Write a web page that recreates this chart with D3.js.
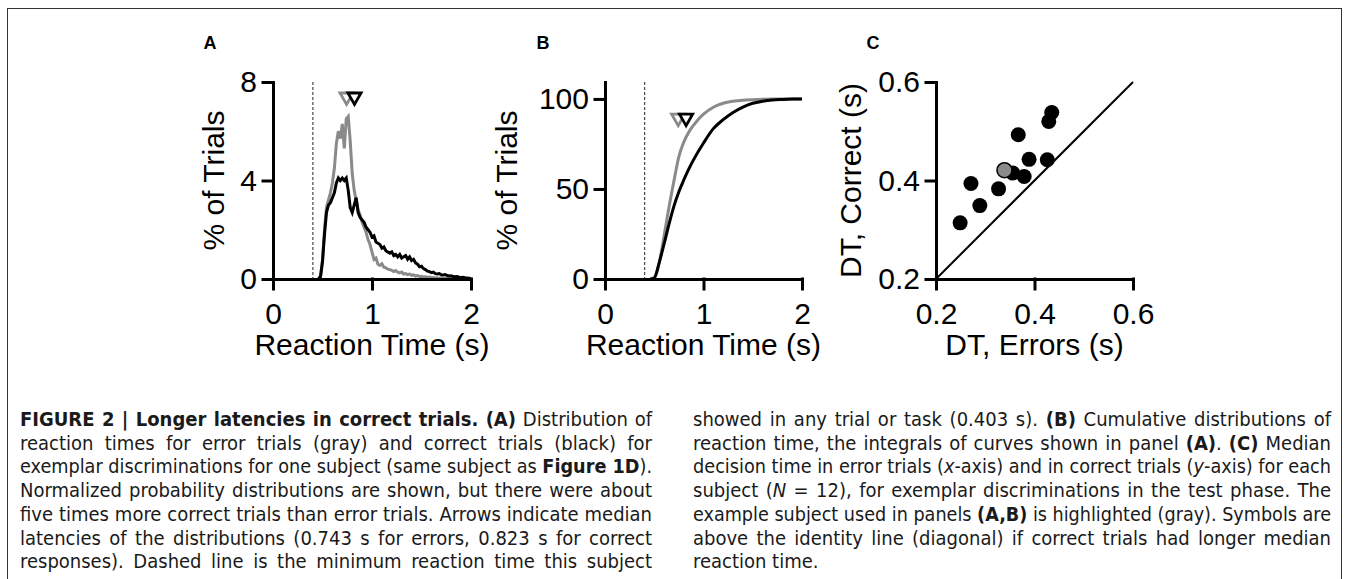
<!DOCTYPE html>
<html>
<head>
<meta charset="utf-8" />
<title>Figure 2: Longer latencies in correct trials</title>
<script src="https://cdnjs.cloudflare.com/ajax/libs/d3/7.8.5/d3.min.js"></script>
<style>
  body { margin: 0; background: #fff; }
  #fig { position: relative; width: 1349px; height: 579px; overflow: hidden; }
  #fig svg { position: absolute; left: 0; top: 0; }
  .axis path, .axis line { stroke: #000; stroke-width: 3px; stroke-linecap: square; }
  .axis text { font-family: "Liberation Sans", Arial, sans-serif; font-size: 30px; fill: #000; }
  .title { font-family: "Liberation Sans", Arial, sans-serif; font-size: 30px; fill: #000; }
  .plabel { font-family: "Liberation Sans", Arial, sans-serif; font-size: 18px; font-weight: bold; fill: #000; }
  .cap { position: absolute; font-family: "Liberation Sans Narrow", "DejaVu Sans Condensed", sans-serif;
         font-size: 20px; line-height: 23.7px; color: #1a1a1a; white-space: nowrap; }
</style>
</head>
<body>
<div id="fig"></div>
<script>
// reaction time histogram bins (s) and % of trials
var rtBins = [0.46, 0.48, 0.50, 0.52, 0.54, 0.56, 0.58, 0.60, 0.62, 0.64,
              0.66, 0.68, 0.70, 0.72, 0.74, 0.76, 0.78, 0.80, 0.82, 0.84,
              0.86, 0.88, 0.90, 0.92, 0.94, 0.96, 0.98, 1.00, 1.02, 1.04,
              1.06, 1.08, 1.10, 1.12, 1.14, 1.16, 1.18, 1.20, 1.22, 1.24,
              1.26, 1.28, 1.30, 1.32, 1.34, 1.36, 1.38, 1.40, 1.42, 1.44,
              1.46, 1.48, 1.50, 1.52, 1.54, 1.56, 1.58, 1.60, 1.62, 1.64,
              1.66, 1.68, 1.70, 1.72, 1.74, 1.76, 1.78, 1.80, 1.82, 1.84,
              1.86, 1.88, 1.90, 1.92, 1.94, 1.96, 1.98, 2.00];
var pctError = [0.00, 0.10, 0.80, 2.00, 2.90, 3.20, 3.50, 3.90, 4.50, 5.50,
                6.00, 5.70, 6.30, 5.30, 6.50, 6.60, 5.60, 4.30, 3.60, 3.20,
                2.80, 2.60, 2.30, 2.10, 1.90, 1.60, 1.40, 1.10, 0.80, 0.85,
                0.60, 0.55, 0.62, 0.48, 0.45, 0.40, 0.38, 0.35, 0.30, 0.34,
                0.28, 0.25, 0.28, 0.20, 0.22, 0.18, 0.20, 0.15, 0.17, 0.12,
                0.14, 0.10, 0.11, 0.08, 0.09, 0.07, 0.08, 0.05, 0.06, 0.04,
                0.05, 0.03, 0.04, 0.03, 0.02, 0.03, 0.02, 0.01, 0.02, 0.01,
                0.01, 0.00, 0.01, 0.00, 0.00, 0.00, 0.00, 0.00];
var pctCorrect = [0.00, 0.10, 0.70, 1.80, 2.70, 3.00, 3.10, 3.30, 3.50, 3.90,
                  4.10, 4.00, 4.10, 4.00, 4.10, 3.60, 2.90, 2.70, 3.00, 3.30,
                  2.70, 2.50, 2.40, 2.30, 2.10, 2.00, 1.90, 1.70, 1.75, 1.50,
                  1.45, 1.40, 1.25, 1.30, 1.15, 1.10, 1.05, 1.10, 0.95, 1.00,
                  0.90, 1.00, 0.85, 0.90, 0.95, 0.80, 0.90, 0.75, 0.80, 0.65,
                  0.60, 0.50, 0.52, 0.42, 0.38, 0.32, 0.30, 0.26, 0.28, 0.22,
                  0.20, 0.22, 0.17, 0.16, 0.18, 0.14, 0.12, 0.13, 0.10, 0.09,
                  0.10, 0.07, 0.06, 0.07, 0.05, 0.04, 0.03, 0.02];

// cumulative % of trials
var cdfTimes   = [0.46, 0.50, 0.55, 0.60, 0.65, 0.70, 0.75, 0.80, 0.85, 0.90, 1.00,
                  1.10, 1.20, 1.30, 1.40, 1.50, 1.60, 1.70, 1.80, 1.90, 2.00];
var cdfError   = [0, 0.8, 9, 24, 40, 54.5, 68, 76, 81.5, 85.5, 91.5,
                  95.4, 97.6, 98.7, 99.3, 99.6, 99.8, 99.9, 100, 100, 100];
var cdfCorrect = [0, 0.5, 9, 19.5, 30.5, 40.5, 48.5, 55, 61, 66.3, 75.5,
                  83.5, 88.5, 92.5, 95.5, 97.6, 98.7, 99.4, 99.7, 99.9, 100];

var medianError = 0.743, medianCorrect = 0.823, minRT = 0.403;
var arrowPctA = 7.4, arrowPctB = 89.4;

// panel C: median decision time per subject (s)
var dtErrors  = [0.249, 0.271, 0.289, 0.327, 0.339, 0.356, 0.367, 0.379, 0.389, 0.426, 0.429, 0.435];
var dtCorrect = [0.314, 0.394, 0.349, 0.383, 0.421, 0.415, 0.493, 0.408, 0.443, 0.442, 0.520, 0.538];
var exampleSubject = 4;

var ticksRT = [0, 1, 2], ticksA = [0, 4, 8], ticksB = [0, 50, 100], ticksC = [0.2, 0.4, 0.6];

var captionLeft = [
  "<b>FIGURE 2 | Longer latencies in correct trials. (A)</b> Distribution of",
  "reaction times for error trials (gray) and correct trials (black) for",
  "exemplar discriminations for one subject (same subject as <b>Figure 1D</b>).",
  "Normalized probability distributions are shown, but there were about",
  "five times more correct trials than error trials. Arrows indicate median",
  "latencies of the distributions (0.743 s for errors, 0.823 s for correct",
  "responses). Dashed line is the minimum reaction time this subject"
];
var captionRight = [
  "showed in any trial or task (0.403 s). <b>(B)</b> Cumulative distributions of",
  "reaction time, the integrals of curves shown in panel <b>(A)</b>. <b>(C)</b> Median",
  "decision time in error trials (<i>x</i>-axis) and in correct trials (<i>y</i>-axis) for each",
  "subject (<i>N</i> = 12), for exemplar discriminations in the test phase. The",
  "example subject used in panels <b>(A,B)</b> is highlighted (gray). Symbols are",
  "above the identity line (diagonal) if correct trials had longer median",
  "reaction time."
];

var gray = "#8a8a8a";
var fig = d3.select("#fig");
var svg = fig.append("svg").attr("width", 1349).attr("height", 579);

svg.append("rect")
  .attr("x", 7.5).attr("y", 8.5).attr("width", 1334).attr("height", 640)
  .attr("fill", "none").attr("stroke", "#333").attr("stroke-width", 1);

var yTop = 82, yBot = 279;

function axes(x, y, xt, yt, fmt) {
  svg.append("g").attr("class", "axis")
    .attr("transform", "translate(0," + yBot + ")")
    .call(d3.axisBottom(x).tickValues(xt).tickSize(10).tickSizeOuter(0).tickPadding(14).tickFormat(fmt));
  svg.append("g").attr("class", "axis")
    .attr("transform", "translate(" + x.range()[0] + ",0)")
    .call(d3.axisLeft(y).tickValues(yt).tickSize(10).tickSizeOuter(0).tickPadding(6).tickFormat(fmt));
  svg.selectAll(".axis .domain").attr("fill", "none");
}

function titles(x, xt, ytx, yt) {
  svg.append("text").attr("class", "title")
    .attr("x", (x.range()[0] + x.range()[1]) / 2).attr("y", 355)
    .attr("text-anchor", "middle").text(xt);
  svg.append("text").attr("class", "title")
    .attr("transform", "translate(" + ytx + "," + (yTop + yBot) / 2 + ") rotate(-90)")
    .attr("text-anchor", "middle").text(yt);
}

function arrows(x, y, pct) {
  var tri = d3.symbol(d3.symbolTriangle).size(75);
  [[medianError, gray], [medianCorrect, "#000"]].forEach(function(m) {
    svg.append("path")
      .attr("d", tri)
      .attr("transform", "translate(" + x(m[0]) + "," + y(pct) + ") rotate(180)")
      .attr("fill", "#fff").attr("stroke", m[1]).attr("stroke-width", 2.8)
      .attr("stroke-linejoin", "miter");
  });
}

function dashed(x) {
  svg.append("line")
    .attr("x1", x(minRT)).attr("x2", x(minRT))
    .attr("y1", yTop).attr("y2", yBot)
    .attr("stroke", "#222").attr("stroke-width", 1).attr("stroke-dasharray", "3,2");
}

// ---- panel A
var xA = d3.scaleLinear().domain([0, 2]).range([273, 471]);
var yA = d3.scaleLinear().domain([0, 8]).range([yBot, yTop]);
dashed(xA);
var lineA = d3.line()
  .x(function(d, i) { return xA(rtBins[i]); })
  .y(function(d) { return yA(d); });
svg.append("path").datum(pctError).attr("d", lineA)
  .attr("fill", "none").attr("stroke", gray).attr("stroke-width", 3);
svg.append("path").datum(pctCorrect).attr("d", lineA)
  .attr("fill", "none").attr("stroke", "#000").attr("stroke-width", 3);
axes(xA, yA, ticksRT, ticksA, d3.format("d"));
arrows(xA, yA, arrowPctA);
titles(xA, "Reaction Time (s)", 224, "% of Trials");

// ---- panel B
var xB = d3.scaleLinear().domain([0, 2]).range([605, 802]);
var yB = d3.scaleLinear().domain([0, 109.4]).range([yBot, yTop]);
dashed(xB);
var lineB = d3.line()
  .curve(d3.curveMonotoneX)
  .x(function(d, i) { return xB(cdfTimes[i]); })
  .y(function(d) { return yB(d); });
svg.append("path").datum(cdfError).attr("d", lineB)
  .attr("fill", "none").attr("stroke", gray).attr("stroke-width", 3);
svg.append("path").datum(cdfCorrect).attr("d", lineB)
  .attr("fill", "none").attr("stroke", "#000").attr("stroke-width", 3);
axes(xB, yB, ticksRT, ticksB, d3.format("d"));
arrows(xB, yB, arrowPctB);
titles(xB, "Reaction Time (s)", 517, "% of Trials");

// ---- panel C
var xC = d3.scaleLinear().domain([0.2, 0.6]).range([936, 1133]);
var yC = d3.scaleLinear().domain([0.2, 0.6]).range([yBot, yTop]);
svg.append("line")
  .attr("x1", xC(0.2)).attr("y1", yC(0.2)).attr("x2", xC(0.6)).attr("y2", yC(0.6))
  .attr("stroke", "#000").attr("stroke-width", 2);
axes(xC, yC, ticksC, ticksC, d3.format(".1f"));
var order = d3.range(dtErrors.length).filter(function(i) { return i != exampleSubject; }).concat([exampleSubject]);
svg.selectAll(".subj")
  .data(order)
  .enter().append("circle")
  .attr("class", "subj")
  .attr("cx", function(i) { return xC(dtErrors[i]); })
  .attr("cy", function(i) { return yC(dtCorrect[i]); })
  .attr("r", 7.5)
  .attr("fill", function(i) { return i == exampleSubject ? gray : "#000"; })
  .attr("stroke", "#000")
  .attr("stroke-width", function(i) { return i == exampleSubject ? 1.5 : 0; });
titles(xC, "DT, Errors (s)", 861, "DT, Correct (s)");

// panel letters
[["A", 210], ["B", 543], ["C", 873]].forEach(function(p) {
  svg.append("text").attr("class", "plabel")
    .attr("x", p[1]).attr("y", 49).attr("text-anchor", "middle").text(p[0]);
});

// ---- caption, justified line by line
var capTop = 408, capLead = 23.7;
function captionColumn(lines, left, width) {
  lines.forEach(function(html, i) {
    var div = fig.append("div").attr("class", "cap")
      .style("left", left + "px").style("top", (capTop + i * capLead) + "px");
    var span = div.append("span").style("display", "inline-block").html(html);
    var w = span.node().getBoundingClientRect().width;
    var spaces = span.text().split(" ").length - 1;
    if (w > width) {
      span.style("transform", "scaleX(" + (width / w) + ")").style("transform-origin", "0 0");
    } else if (html != "reaction time.") {
      span.style("word-spacing", ((width - w) / spaces) + "px");
    }
  });
}
captionColumn(captionLeft, 20, 632);
captionColumn(captionRight, 693, 638);
</script>
</body>
</html>
